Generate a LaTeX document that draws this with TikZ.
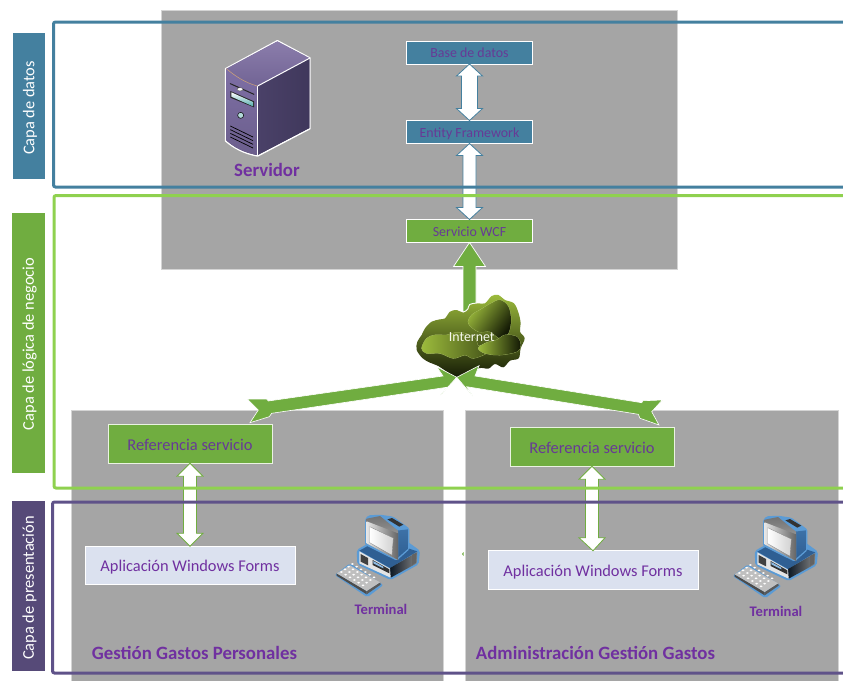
\documentclass[tikz,border=0pt]{standalone}
\usepackage{fontspec}
\setmainfont{Carlito}
\usetikzlibrary{calc}
\definecolor{greybg}{HTML}{A5A5A5}
\definecolor{greyln}{HTML}{D4D4D4}
\definecolor{layerblue}{HTML}{44809F}
\definecolor{layergreen}{HTML}{70AD40}
\definecolor{framegreen}{HTML}{8FD14F}
\definecolor{layerpurple}{HTML}{564A78}
\definecolor{framepurple}{HTML}{5F5289}
\definecolor{txtpurple}{HTML}{7030A0}
\definecolor{boxtxt}{HTML}{673A96}
\definecolor{lightbox}{HTML}{DBE1EF}
\definecolor{srvlight}{HTML}{7E6FA5}
\definecolor{srvtop}{HTML}{8B7DAB}
\definecolor{srvdark}{HTML}{40385C}
\definecolor{srvmid}{HTML}{4A4168}
\definecolor{termblue}{HTML}{5B9BD5}
\definecolor{termdark}{HTML}{2F5F93}
\definecolor{cloudlime}{HTML}{9CBB3C}
\definecolor{cloudmid}{HTML}{5A6E20}
\definecolor{cloudblack}{HTML}{141A05}
\tikzset{
  panel/.style={fill=greybg,draw=greyln,line width=.8pt},
  bar/.style={inner sep=0pt,outer sep=0pt,text=white,font=\fontsize{16.4}{18}\selectfont},
  layerframe/.style={line width=3pt,rounded corners=2pt},
  smallbox/.style={draw=white,line width=.9pt,inner sep=0pt,outer sep=0pt,minimum width=126pt,minimum height=23pt,text=boxtxt,text height=13pt,text depth=3pt,font=\fontsize{13.9}{15}\selectfont},
  refbox/.style={draw=white!85!layergreen,line width=.9pt,fill=layergreen,inner sep=0pt,outer sep=0pt,minimum width=164pt,minimum height=38.5pt,text=boxtxt,text height=15pt,text depth=3pt,font=\fontsize{16.45}{18}\selectfont},
  appbox/.style={draw=white,line width=.9pt,fill=lightbox,inner sep=0pt,outer sep=0pt,minimum width=210pt,minimum height=38.5pt,text=txtpurple,text height=15pt,text depth=3pt,font=\fontsize{16.4}{18}\selectfont},
  caption/.style={text=txtpurple,inner sep=0pt,font=\bfseries\fontsize{18.8}{20}\selectfont},
  termcap/.style={text=txtpurple,inner sep=0pt,font=\bfseries\fontsize{14.6}{15}\selectfont},
  thinout/.style={line width=.8pt,line join=miter},
}
% vertical double block arrow between two points: top, bottom, colour, head half-width, head length, shaft half-width
\newcommand\vdoublearrow[6]{%
  \draw[thinout,draw=#3,fill=white] let \p1=(#1),\p2=(#2) in
   (\x1,\y1) -- (\x1+#4pt,\y1-#5pt) -- (\x1+#6pt,\y1-#5pt) -- (\x1+#6pt,\y2+#5pt) -- (\x1+#4pt,\y2+#5pt)
   -- (\x2,\y2) -- (\x1-#4pt,\y2+#5pt) -- (\x1-#6pt,\y2+#5pt) -- (\x1-#6pt,\y1-#5pt) -- (\x1-#4pt,\y1-#5pt) -- cycle;}
\newcommand\cloudouter{plot[smooth cycle,tension=.55] coordinates {(145,264) (110,245) (85,228) (60,218) (38,205) (20,180) (22,155) (35,135) (45,115) (65,95) (90,88) (105,85) (120,65) (140,60) (160,68) (175,58) (180,45) (205,40) (225,40) (245,18) (265,15) (285,30) (312,40) (326,70) (332,100) (330,125) (344,145) (332,175) (326,205) (300,212) (280,232) (255,222) (235,236) (205,235)}}
\newcommand\cloudleft{plot[smooth cycle,tension=.55] coordinates {(35,175) (50,145) (75,135) (110,135) (135,128) (165,130) (195,145) (207,168) (240,155) (250,172) (230,190) (190,205) (165,195) (130,205) (90,190) (50,190)}}
\newcommand\cloudtop{plot[smooth cycle,tension=.55] coordinates {(175,100) (185,75) (210,60) (240,42) (270,30) (295,50) (303,90) (295,130) (270,145) (240,125) (205,125)}}
\newcommand\cloudsmall{plot[smooth cycle,tension=.55] coordinates {(205,175) (225,160) (260,150) (285,135) (320,140) (332,165) (320,185) (270,195) (225,190)}}
\newcommand\terminalicon{%
  % case
  \fill[termblue,rounded corners=2pt] (80,120) -- (150,80) -- (205,75) -- (270,122) -- (266,163) -- (182,210) -- (82,163) -- cycle;
  \fill[termdark] (88,122) -- (150,88) -- (262,124) -- (180,174) -- cycle;
  \shade[left color=black!75!termdark,right color=greybg!80!black] (180,174) -- (262,126) -- (260,160) -- (182,203) -- cycle;
  \fill[greybg!30!white] (88,124) -- (180,176) -- (182,203) -- (88,160) -- cycle;
  \fill[black!75] (92,132) -- (114,144) -- (114,166) -- (92,155) -- cycle;
  \fill[black!80] (128,150) -- (178,178) -- (178,190) -- (128,165) -- cycle;
  \fill[termblue!70!white] (130,153) -- (160,170) -- (160,175) -- (130,160) -- cycle;
  \fill[greybg!60!black] (246,134) -- (260,128) -- (258,158) -- (246,165) -- cycle;
  % monitor back
  \fill[termblue,rounded corners=1.5pt] (105,28) -- (115,16) -- (150,14) -- (190,20) -- (238,55) -- (238,118) -- (200,152) -- (105,105) -- cycle;
  \shade[top color=termdark!60!termblue,bottom color=termdark] (150,30) -- (200,62) -- (234,58) -- (234,116) -- (200,146) -- (150,100) -- cycle;
  \fill[black!80] (172,28) -- (186,24) -- (220,44) -- (208,50) -- cycle;
  % monitor face
  \shade[top color=black!55,bottom color=black!25] (110,26) -- (150,18) -- (204,62) -- (204,150) -- (110,100) -- cycle;
  \shade[left color=white!90!black,right color=black!60] (110,34) -- (204,70) -- (204,150) -- (110,100) -- cycle;
  \shade[left color=white,right color=black!18!white,draw=black!50,line width=.3pt] (119,50) -- (190,84) -- (186,136) -- (119,98) -- cycle;
  % keyboard
  \fill[termblue,rounded corners=2pt] (14,195) -- (60,160) -- (160,225) -- (112,262) -- cycle;
  \fill[black!70] (20,197) -- (110,253) -- (110,243) -- (20,190) -- cycle;
  \fill[black!65] (110,253) -- (152,224) -- (150,217) -- (110,243) -- cycle;
  \fill[black!25!white] (20,190) -- (60,166) -- (150,217) -- (110,243) -- cycle;
  \foreach \i in {0,...,5}{\foreach \j in {0,...,3}{
    \fill[white] ({34+\i*13+\j*11},{186+\i*8-\j*8}) circle[x radius=4.5,y radius=2.8];}}
}
\begin{document}
\begin{tikzpicture}[x=1pt,y=-1pt]
\useasboundingbox (0,0) rectangle (843,680);
% panels
\draw[panel] (161,10) rectangle (677,269);
\draw[panel] (71,410) rectangle (443,690);
\draw[panel] (465,410) rectangle (838,690);
% anchors
\coordinate (internet) at (470,312);
\coordinate (hub) at (456.7,377.3);
% nodes
\node[smallbox,fill=layerblue] (bd) at (469.5,52.5) {Base de datos};
\node[smallbox,fill=layerblue] (ef) at (469.5,132) {Entity Framework};
\node[smallbox,fill=layergreen] (wcf) at (469.5,231) {Servicio WCF};
\node[refbox] (refl) at (190,444) {Referencia servicio};
\node[refbox] (refr) at (592,447) {Referencia servicio};
\node[appbox] (appl) at (190,565.5) {Aplicación Windows Forms};
\node[appbox] (appr) at (593,570) {Aplicación Windows Forms};
% block arrows
\vdoublearrow{bd.south}{ef.north}{layerblue}{13}{12}{8}
\vdoublearrow{ef.south}{wcf.north}{layerblue}{13}{12}{6.5}
\vdoublearrow{refl.south}{appl.north}{layergreen}{13}{13}{6.5}
\vdoublearrow{refr.south}{appr.north}{layergreen}{13}{13}{6.5}
% arrow from internet to WCF
\draw[draw=white,fill=layergreen,line width=.7pt,line join=miter] let \p1=(wcf.south),\p2=(internet) in
  (\x1,\y1) -- (\x1+16pt,\y1-24pt) -- (\x1+6.5pt,\y1-24pt) -- (\x1+6.5pt,\y2) -- (\x1-6.5pt,\y2) -- (\x1-6.5pt,\y1-24pt) -- (\x1-16pt,\y1-24pt) -- cycle;
% cloud
\begin{scope}[shift={(410,290)},scale=1/3]
  \draw[white,fill=white,line width=2pt] \cloudouter;
  \shade[top color=cloudlime,middle color=cloudmid!95!black,bottom color=cloudblack] \cloudouter;
  \draw[cloudlime!70!white,line width=.5pt] \cloudleft;
  \shade[left color=cloudlime,right color=black!30!cloudmid] \cloudleft;
  \draw[cloudlime!70!white,line width=.5pt] \cloudtop;
  \shade[top color=cloudlime,bottom color=cloudblack,shading angle=55] \cloudtop;
  \draw[cloudlime!70!white,line width=.5pt] \cloudsmall;
  \shade[left color=cloudlime,right color=cloudblack] \cloudsmall;
\end{scope}
\node[text=white!92!cloudlime,inner sep=0pt,font=\fontsize{13.9}{15}\selectfont] (inet) at (471.7,337.5) {Internet};
% arrows to hub
\draw[draw=white,fill=layergreen,line width=.6pt,line join=miter] (hub) -- +(-20,-10.6) -- +(-13.7,-1.3) -- +(-188.4,23.7) -- +(-190,21.7) -- +(-209.4,21.7)
  -- +(-198.4,32.7) -- +(-206.7,45.4) -- +(-187.4,39.4) -- +(-185,36) -- +(-10,10) -- +(-16,17.7) -- cycle;
\draw[draw=white,fill=layergreen,line width=.6pt,line join=miter] (hub) -- +(22.3,-11.6) -- +(18.3,-1.3) -- +(185,25.4) -- +(186.3,23.4) -- +(205.6,22.7)
  -- +(195,34.4) -- +(202.3,47.7) -- +(183.3,41) -- +(181.6,37) -- +(10,9.4) -- +(16,18.7) -- cycle;
% server
\begin{scope}[shift={(220,36)},scale=1/3]
  \path[fill=srvdark,draw=white,line width=1.4pt,line join=round]
    (172,14) -- (270,66) -- (270,278) -- (113,360) .. controls (70,352) and (40,335) .. (17,315) -- (17,98) -- cycle;
  \shade[top color=srvtop,bottom color=srvlight!90!black] (172,16) -- (268,66) -- (113,150) .. controls (75,140) and (45,120) .. (19,98) -- cycle;
  \shade[top color=srvlight,bottom color=srvlight!85!black] (19,98) .. controls (45,120) and (75,140) .. (112,150) -- (112,357) .. controls (70,350) and (40,333) .. (19,313) -- cycle;
  \shade[left color=srvmid,right color=srvdark] (114,150) -- (268,68) -- (268,276) -- (114,356) -- cycle;
  \draw[white,line width=1pt] (113,150) -- (270,66);
  \draw[white,line width=1pt] (113,150) -- (113,360);
  \draw[brown!70!white,line width=.5pt] (19,98) .. controls (45,120) and (75,140) .. (112,150);
  \draw[black!85,line width=1pt,line cap=round] (31,143) -- (102,175);
  \draw[black!70,line width=.4pt,fill=white] (60,160) ellipse[x radius=9,y radius=5];
  \fill[black!85] (31,165) -- (102,196) -- (102,214) -- (31,185) -- cycle;
  \shade[top color=white,bottom color=cyan!35!gray] (34,169) -- (99,198) -- (99,211) -- (34,182) -- cycle;
  \draw[black,line width=.5pt,fill=white!70!teal] (62,238) circle[radius=9];
  \foreach \d in {0,11,22,33}{\draw[black,line width=.7pt] (31,{270+\d}) -- (99,{303+\d});}
\end{scope}
\node[caption] (srv) at (267,170) {Servidor};
% terminals
\begin{scope}[shift={(330,510)},scale=1/3]\terminalicon\end{scope}
\begin{scope}[shift={(728,511)},scale=1/3]\terminalicon\end{scope}
\node[termcap] (terml) at (381,609.5) {Terminal};
\node[termcap] (termr) at (776,611.5) {Terminal};
% captions
\node[caption] (gl) at (194.5,653) {Gestión Gastos Personales};
\node[caption] (gr) at (595.5,653) {Administración Gestión Gastos};
% stray mark
\fill[layergreen] (462,554) -- (463.5,552) -- (463.5,556) -- cycle;
% layer frames
\draw[layerframe,draw=layerblue] (850,22) -- (53.5,22) -- (53.5,187) -- (850,187);
\draw[layerframe,draw=framegreen] (850,195.5) -- (54,195.5) -- (54,488) -- (850,488);
\draw[layerframe,draw=framepurple] (850,502) -- (52.5,502) -- (52.5,673) -- (850,673);
% side bars
\node[bar,fill=layerblue,minimum width=32.5pt,minimum height=146pt] (bard) at (29,106) {\hspace*{2pt}\rotatebox{90}{Capa de datos\hspace*{4pt}}};
\node[bar,fill=layergreen,minimum width=33pt,minimum height=260pt] (barn) at (28.5,343) {\hspace*{2pt}\rotatebox{90}{Capa de lógica de negocio\hspace*{2pt}}};
\node[bar,fill=layerpurple,minimum width=33pt,minimum height=170pt] (barp) at (28.5,586) {\hspace*{2pt}\rotatebox{90}{Capa de presentación\hspace*{4pt}}};
\end{tikzpicture}
\end{document}
